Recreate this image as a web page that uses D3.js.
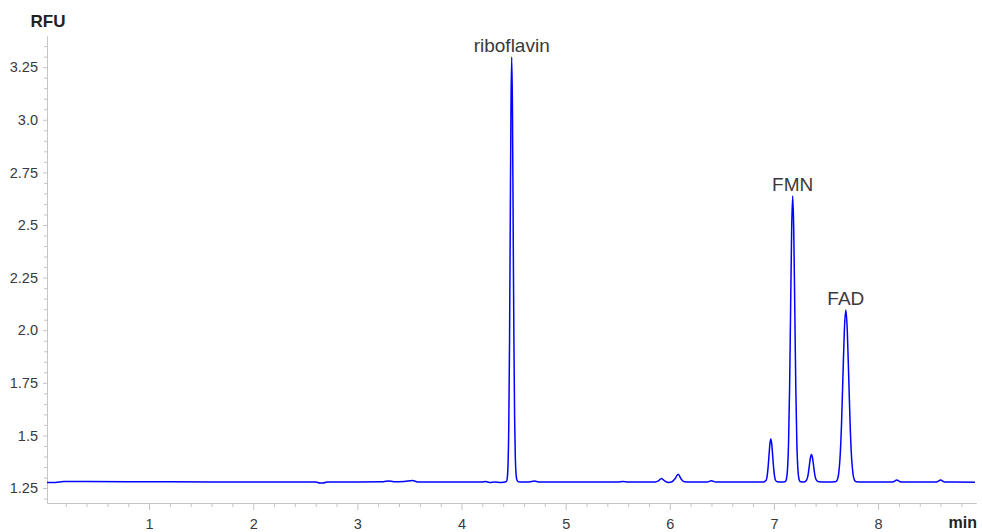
<!DOCTYPE html>
<html><head><meta charset="utf-8">
<script src="https://cdn.jsdelivr.net/npm/d3@7/dist/d3.min.js"></script>
<style>
body{margin:0;background:#fff;}
svg{display:block;}
</style></head>
<body>
<svg id="chart" width="982" height="532"></svg>
<script>
const times = [0.02,0.10,0.18,0.40,0.80,1.20,1.60,2.00,2.40,2.60,2.64,2.67,2.71,3.00,3.25,3.30,3.35,3.45,3.53,3.58,4.00,4.20,4.23,4.27,4.32,4.38,4.42,
4.433,4.440,4.447,4.454,4.461,4.468,4.475,4.482,4.489,4.496,4.503,4.510,4.517,4.524,4.531,4.540,4.56,4.65,4.70,4.74,5.00,5.30,5.50,5.55,5.60,
5.86,5.89,5.92,5.95,5.985,6.02,6.05,6.08,6.11,6.14,6.20,6.36,6.40,6.44,6.70,6.90,
6.925,6.934,6.943,6.952,6.961,6.970,6.979,6.988,6.997,7.006,7.015,7.03,7.09,
7.11,7.12,7.13,7.14,7.15,7.16,7.17,7.18,7.19,7.20,7.21,7.22,7.23,7.24,7.25,7.27,
7.30,7.31,7.32,7.33,7.34,7.35,7.36,7.37,7.38,7.39,7.40,7.41,7.43,7.50,
7.59,7.606,7.62,7.634,7.648,7.662,7.676,7.690,7.704,7.718,7.732,7.746,7.760,7.774,7.79,7.85,
8.14,8.18,8.22,8.56,8.60,8.64,8.93];
const rfu = [1.277,1.277,1.281,1.281,1.280,1.280,1.279,1.279,1.279,1.279,1.274,1.274,1.279,1.279,1.280,1.284,1.280,1.281,1.286,1.279,1.279,1.279,1.281,1.277,1.279,1.277,1.279,
1.282,1.300,1.366,1.551,1.934,2.504,3.060,3.298,3.060,2.504,1.960,1.580,1.390,1.315,1.290,1.282,1.279,1.279,1.283,1.279,1.279,1.279,1.279,1.281,1.279,
1.279,1.284,1.296,1.284,1.277,1.280,1.294,1.316,1.292,1.280,1.279,1.279,1.285,1.279,1.279,1.279,
1.287,1.306,1.345,1.402,1.459,1.483,1.459,1.402,1.345,1.306,1.287,1.280,1.279,
1.281,1.293,1.338,1.462,1.720,2.103,2.478,2.638,2.478,2.103,1.720,1.462,1.338,1.293,1.281,1.279,
1.280,1.286,1.296,1.320,1.358,1.394,1.410,1.394,1.358,1.320,1.296,1.286,1.280,1.279,
1.280,1.287,1.314,1.389,1.544,1.775,2.000,2.096,2.000,1.775,1.544,1.389,1.314,1.287,1.280,1.279,
1.279,1.288,1.279,1.279,1.288,1.279,1.278];

const xTicks = [1,2,3,4,5,6,7,8];
const xTickLabels = ["1","2","3","4","5","6","7","8"];
const yTicks = [1.25,1.5,1.75,2.0,2.25,2.5,2.75,3.0,3.25];
const yTickLabels = ["1.25","1.5","1.75","2.0","2.25","2.5","2.75","3.0","3.25"];
const peakNames = ["riboflavin","FMN","FAD"];
const peakTimes = [4.482,7.18,7.69];
const peakHeights = [3.298,2.638,2.096];

const svg = d3.select("#chart");
const x = d3.scaleLinear().domain([0.02, 8.94]).range([47, 976]);
const y = d3.scaleLinear().domain([1.179, 3.398]).range([503, 36]);
const axisColor = "#c4c4c4";
const textColor = "#3a3a3a";
const font = "'Liberation Sans', Arial, sans-serif";

// minor ticks
const xMinor = d3.range(0.2, 8.95, 0.2).filter(v => Math.abs(v - Math.round(v)) > 1e-6);
const yMinor = d3.range(1.20, 3.40, 0.05).filter(v => !yTicks.some(t => Math.abs(t - v) < 1e-6));

const gx = svg.append("g").attr("transform", "translate(0,503)");
gx.call(d3.axisBottom(x).tickValues(xMinor).tickSize(4).tickFormat("").tickSizeOuter(0));
gx.call(g => g.selectAll(".tick line").attr("stroke", axisColor));
const gx2 = svg.append("g").attr("transform", "translate(0,503)");
gx2.call(d3.axisBottom(x).tickValues(xTicks).tickSize(7).tickPadding(9).tickSizeOuter(0)
  .tickFormat((d,i) => xTickLabels[i]));
gx2.selectAll(".domain").attr("stroke", axisColor);
gx.selectAll(".domain").attr("stroke", axisColor);
gx2.selectAll(".tick line").attr("stroke", axisColor);
gx2.selectAll(".tick text").attr("fill", textColor).style("font-family", font).style("font-size", "14.5px");

const gy = svg.append("g").attr("transform", "translate(47,0)");
gy.call(d3.axisLeft(y).tickValues(yMinor).tickSize(3).tickFormat("").tickSizeOuter(0));
gy.selectAll("line,.domain").attr("stroke", axisColor);
const gy2 = svg.append("g").attr("transform", "translate(47,0)");
gy2.call(d3.axisLeft(y).tickValues(yTicks).tickSize(4).tickPadding(5).tickSizeOuter(0)
  .tickFormat((d,i) => yTickLabels[i]));
gy2.selectAll("line,.domain").attr("stroke", axisColor);
gy2.selectAll(".tick text").attr("fill", textColor).style("font-family", font).style("font-size", "14.5px");

// trace
const pts = times.map((t, i) => [t, rfu[i]]);
svg.append("path")
  .datum(pts)
  .attr("fill", "none")
  .attr("stroke", "#0000ff")
  .attr("stroke-width", 1.5)
  .attr("stroke-linejoin", "round")
  .attr("d", d3.line().x(d => x(d[0])).y(d => y(d[1])).curve(d3.curveMonotoneX));

// axis titles
svg.append("text").attr("x", 48).attr("y", 27).attr("text-anchor", "middle")
  .attr("fill", "#222").style("font-family", font).style("font-weight", "bold").style("font-size", "17px").text("RFU");
svg.append("text").attr("x", 977).attr("y", 528).attr("text-anchor", "end")
  .attr("fill", "#222").style("font-family", font).style("font-weight", "bold").style("font-size", "16px").text("min");

// peak labels
svg.selectAll(".plabel").data(peakNames).enter().append("text")
  .attr("class", "plabel")
  .attr("x", (d,i) => x(peakTimes[i]))
  .attr("y", (d,i) => y(peakHeights[i]) - 5)
  .attr("text-anchor", "middle")
  .attr("fill", textColor)
  .style("font-family", font).style("font-size", "19px")
  .text(d => d);
</script>
</body></html>
